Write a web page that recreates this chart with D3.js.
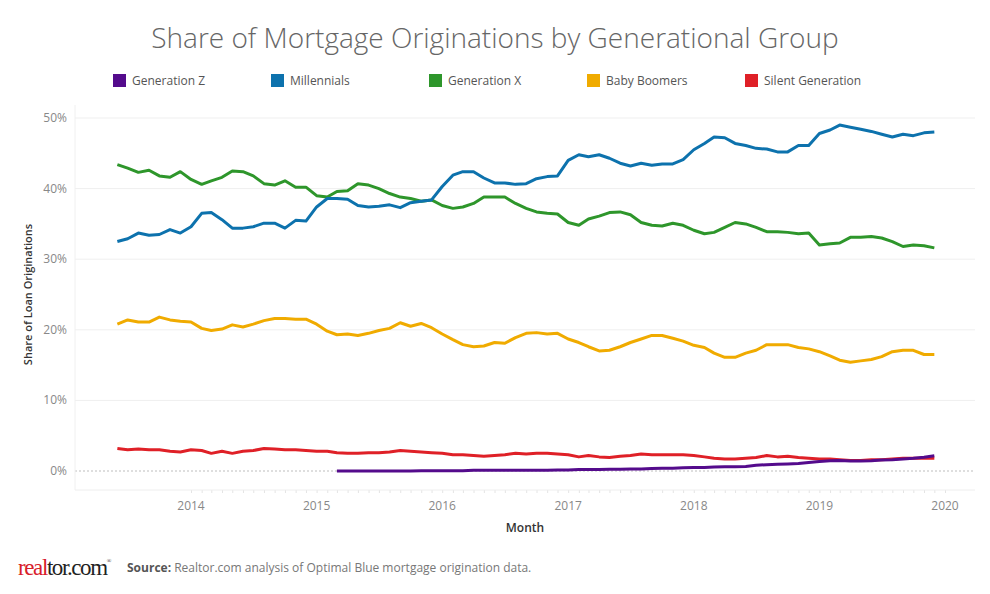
<!DOCTYPE html>
<html>
<head>
<meta charset="utf-8">
<script src="https://cdn.jsdelivr.net/npm/d3@7"></script>
<style>
  body { margin: 0; background: #fff; }
  text { font-family: "Open Sans", "Noto Sans", sans-serif; }
</style>
</head>
<body>
<div id="chart"></div>
<script>
// monthly series, June 2013 .. December 2019
var startMonth = new Date(2013, 5, 1);
var seriesNames = ["Generation Z", "Millennials", "Generation X", "Baby Boomers", "Silent Generation"];
var seriesColors = ["#540b8c", "#0d72ad", "#2e962b", "#f0ab00", "#df2027"];

// Gen Z shows up from March 2015 on
var genZ = [null, null, null, null, null, null, null, null, null, null,
  null, null, null, null, null, null, null, null, null, null, null,
  0.0, 0.0, 0.0, 0.0, 0.0, 0.0, 0.0, 0.0, 0.05, 0.05,
  0.05, 0.05, 0.05, 0.1, 0.1, 0.1, 0.1, 0.1, 0.1, 0.1,
  0.1, 0.15, 0.15, 0.2, 0.2, 0.2, 0.25, 0.25, 0.3, 0.3,
  0.35, 0.4, 0.4, 0.45, 0.5, 0.5, 0.55, 0.6, 0.6, 0.65,
  0.8, 0.9, 0.95, 1.0, 1.05, 1.2, 1.35, 1.45, 1.5, 1.4,
  1.4, 1.45, 1.55, 1.6, 1.7, 1.8, 1.95, 2.15];

var millennials = [32.5, 32.9, 33.7, 33.4, 33.5, 34.2, 33.7, 34.6, 36.5, 36.6,
  35.6, 34.4, 34.4, 34.6, 35.1, 35.1, 34.4, 35.5, 35.4, 37.4, 38.6,
  38.6, 38.5, 37.6, 37.4, 37.5, 37.7, 37.3, 38.0, 38.2, 38.4,
  40.3, 41.9, 42.4, 42.4, 41.5, 40.8, 40.8, 40.6, 40.7, 41.4,
  41.7, 41.8, 44.0, 44.8, 44.5, 44.8, 44.3, 43.6, 43.2, 43.6,
  43.3, 43.5, 43.5, 44.1, 45.5, 46.4, 47.3, 47.2, 46.4,
  46.1, 45.7, 45.6, 45.2, 45.2, 46.1, 46.1, 47.8, 48.3, 49.0,
  48.7, 48.4, 48.1, 47.7, 47.3, 47.7, 47.5, 47.9, 48.0];

var genX = [43.4, 42.9, 42.3, 42.6, 41.8, 41.6, 42.4, 41.3, 40.6, 41.1,
  41.6, 42.5, 42.4, 41.8, 40.7, 40.5, 41.1, 40.2, 40.2, 39.0, 38.8,
  39.6, 39.7, 40.7, 40.5, 40.0, 39.3, 38.8, 38.6, 38.2, 38.4,
  37.6, 37.2, 37.4, 37.9, 38.8, 38.8, 38.8, 37.9, 37.2, 36.7,
  36.5, 36.4, 35.2, 34.8, 35.7, 36.1, 36.6, 36.7, 36.3, 35.2,
  34.8, 34.7, 35.1, 34.8, 34.1, 33.6, 33.8, 34.5, 35.2,
  35.0, 34.5, 33.9, 33.9, 33.8, 33.6, 33.7, 32.0, 32.2, 32.3,
  33.1, 33.1, 33.2, 33.0, 32.5, 31.8, 32.0, 31.9, 31.6];

var boomers = [20.8, 21.4, 21.1, 21.1, 21.8, 21.4, 21.2, 21.1, 20.2, 19.9,
  20.1, 20.7, 20.4, 20.8, 21.3, 21.6, 21.6, 21.5, 21.5, 20.8,
  19.8, 19.3, 19.4, 19.2, 19.5, 19.9, 20.2, 21.0, 20.5, 20.9,
  20.3, 19.4, 18.6, 17.9, 17.6, 17.7, 18.2, 18.1, 18.9, 19.5,
  19.6, 19.4, 19.5, 18.7, 18.2, 17.6, 17.0, 17.1, 17.6, 18.2,
  18.7, 19.2, 19.2, 18.8, 18.4, 17.8, 17.5, 16.7, 16.1, 16.1,
  16.7, 17.1, 17.9, 17.9, 17.9, 17.5, 17.3, 16.9, 16.3, 15.7,
  15.4, 15.6, 15.8, 16.2, 16.9, 17.1, 17.1, 16.5, 16.5];

var silent = [3.2, 3.0, 3.1, 3.0, 3.0, 2.8, 2.7, 3.0, 2.9, 2.5,
  2.8, 2.5, 2.8, 2.9, 3.2, 3.1, 3.0, 3.0, 2.9, 2.8,
  2.8, 2.6, 2.5, 2.5, 2.6, 2.6, 2.7, 2.9, 2.8, 2.7,
  2.6, 2.5, 2.3, 2.3, 2.2, 2.1, 2.2, 2.3, 2.5, 2.4,
  2.5, 2.5, 2.4, 2.3, 2.0, 2.2, 2.0, 1.9, 2.1, 2.2,
  2.4, 2.3, 2.3, 2.3, 2.3, 2.2, 2.0, 1.8, 1.7, 1.7,
  1.8, 1.9, 2.2, 2.0, 2.1, 1.9, 1.8, 1.7, 1.7, 1.6,
  1.5, 1.5, 1.6, 1.6, 1.7, 1.8, 1.8, 1.8, 1.8];

var yTicks = [0, 10, 20, 30, 40, 50];
var xTickYears = [2014, 2015, 2016, 2017, 2018, 2019, 2020];

var seriesValues = [genZ, millennials, genX, boomers, silent];

var W = 990, H = 594;
var plot = {left: 75, right: 975, top: 105, bottom: 490};

var svg = d3.select("#chart").append("svg")
    .attr("width", W)
    .attr("height", H);

// title
svg.append("text")
    .attr("x", 495)
    .attr("y", 48)
    .attr("text-anchor", "middle")
    .style("font-size", "28px")
    .style("font-weight", 300)
    .style("fill", "#666")
    .text("Share of Mortgage Originations by Generational Group");

// legend
var legend = svg.append("g").selectAll("g")
    .data(seriesNames)
    .enter().append("g")
    .attr("transform", function(d, i) { return "translate(" + (113 + i * 158) + ",74)"; });
legend.append("rect")
    .attr("width", 13).attr("height", 13)
    .style("fill", function(d, i) { return seriesColors[i]; });
legend.append("text")
    .attr("x", 19).attr("y", 11)
    .style("font-size", "12px")
    .style("fill", "#555")
    .text(function(d) { return d; });

// scales
var x = d3.scaleTime()
    .domain([new Date(2014, 0, 1), new Date(2020, 0, 1)])
    .range([191, 945]);
var y = d3.scaleLinear()
    .domain([0, 50])
    .range([471, 118]);

// grid
svg.append("g").selectAll("line")
    .data(yTicks.filter(function(d) { return d > 0; }))
    .enter().append("line")
    .attr("x1", plot.left).attr("x2", plot.right)
    .attr("y1", function(d) { return y(d); })
    .attr("y2", function(d) { return y(d); })
    .style("stroke", "#efefef")
    .style("stroke-width", 1);

svg.append("line")
    .attr("x1", plot.left).attr("x2", plot.right)
    .attr("y1", y(0)).attr("y2", y(0))
    .style("stroke", "#bdbdbd")
    .style("stroke-width", 1)
    .style("stroke-dasharray", "2,2");

// plot frame (left side)
svg.append("line")
    .attr("x1", plot.left).attr("x2", plot.left)
    .attr("y1", plot.top).attr("y2", plot.bottom)
    .style("stroke", "#f0f0f0");

// y axis labels
svg.append("g").selectAll("text")
    .data(yTicks)
    .enter().append("text")
    .attr("x", 67)
    .attr("y", function(d) { return y(d) + 4; })
    .attr("text-anchor", "end")
    .style("font-size", "12px")
    .style("fill", "#888")
    .text(function(d) { return d + "%"; });

svg.append("text")
    .attr("transform", "translate(32," + ((y(0) + y(50)) / 2) + ") rotate(-90)")
    .attr("text-anchor", "middle")
    .style("font-size", "11px")
    .style("font-weight", 600)
    .style("fill", "#333")
    .text("Share of Loan Originations");

// x axis with monthly minor ticks
var xAxis = d3.axisBottom(x)
    .ticks(d3.timeMonth.every(1))
    .tickSize(3)
    .tickFormat("");
var xg = svg.append("g")
    .attr("transform", "translate(0," + plot.bottom + ")")
    .call(xAxis);
xg.select(".domain").remove();
xg.selectAll(".tick line").style("stroke", "#e4e4e4");
svg.append("line")
    .attr("x1", plot.left).attr("x2", plot.right)
    .attr("y1", plot.bottom).attr("y2", plot.bottom)
    .style("stroke", "#eeeeee");

svg.append("g").selectAll("text")
    .data(xTickYears)
    .enter().append("text")
    .attr("x", function(d) { return x(new Date(d, 0, 1)); })
    .attr("y", 510)
    .attr("text-anchor", "middle")
    .style("font-size", "12px")
    .style("fill", "#888")
    .text(function(d) { return d; });

svg.append("text")
    .attr("x", (plot.left + plot.right) / 2)
    .attr("y", 532)
    .attr("text-anchor", "middle")
    .style("font-size", "12px")
    .style("font-weight", 600)
    .style("fill", "#333")
    .text("Month");

// lines
var line = d3.line()
    .defined(function(d) { return d.v !== null; })
    .x(function(d) { return x(d.date); })
    .y(function(d) { return y(d.v); });

var drawOrder = [4, 3, 2, 1, 0];
drawOrder.forEach(function(s) {
  var pts = seriesValues[s].map(function(v, i) {
    return {date: d3.timeMonth.offset(startMonth, i), v: v};
  });
  svg.append("path")
      .datum(pts)
      .attr("d", line)
      .style("fill", "none")
      .style("stroke", seriesColors[s])
      .style("stroke-width", 3)
      .style("stroke-linejoin", "round");
});

// footer
var logo = svg.append("text")
    .attr("x", 18)
    .attr("y", 575)
    .style("font-family", "'Liberation Serif', 'DejaVu Serif', serif")
    .style("font-size", "23px")
    .style("letter-spacing", "-1.4px");
logo.append("tspan").style("fill", "#d8202a").text("real");
logo.append("tspan").style("fill", "#222").text("tor.com");
logo.append("tspan").style("fill", "#222").style("font-size", "6px").attr("dy", -12).text("®");

var src = svg.append("text")
    .attr("x", 127)
    .attr("y", 572)
    .style("font-size", "12px");
src.append("tspan").style("font-weight", 700).style("fill", "#555").text("Source: ");
src.append("tspan").style("fill", "#777").text("Realtor.com analysis of Optimal Blue mortgage origination data.");
</script>
</body>
</html>
